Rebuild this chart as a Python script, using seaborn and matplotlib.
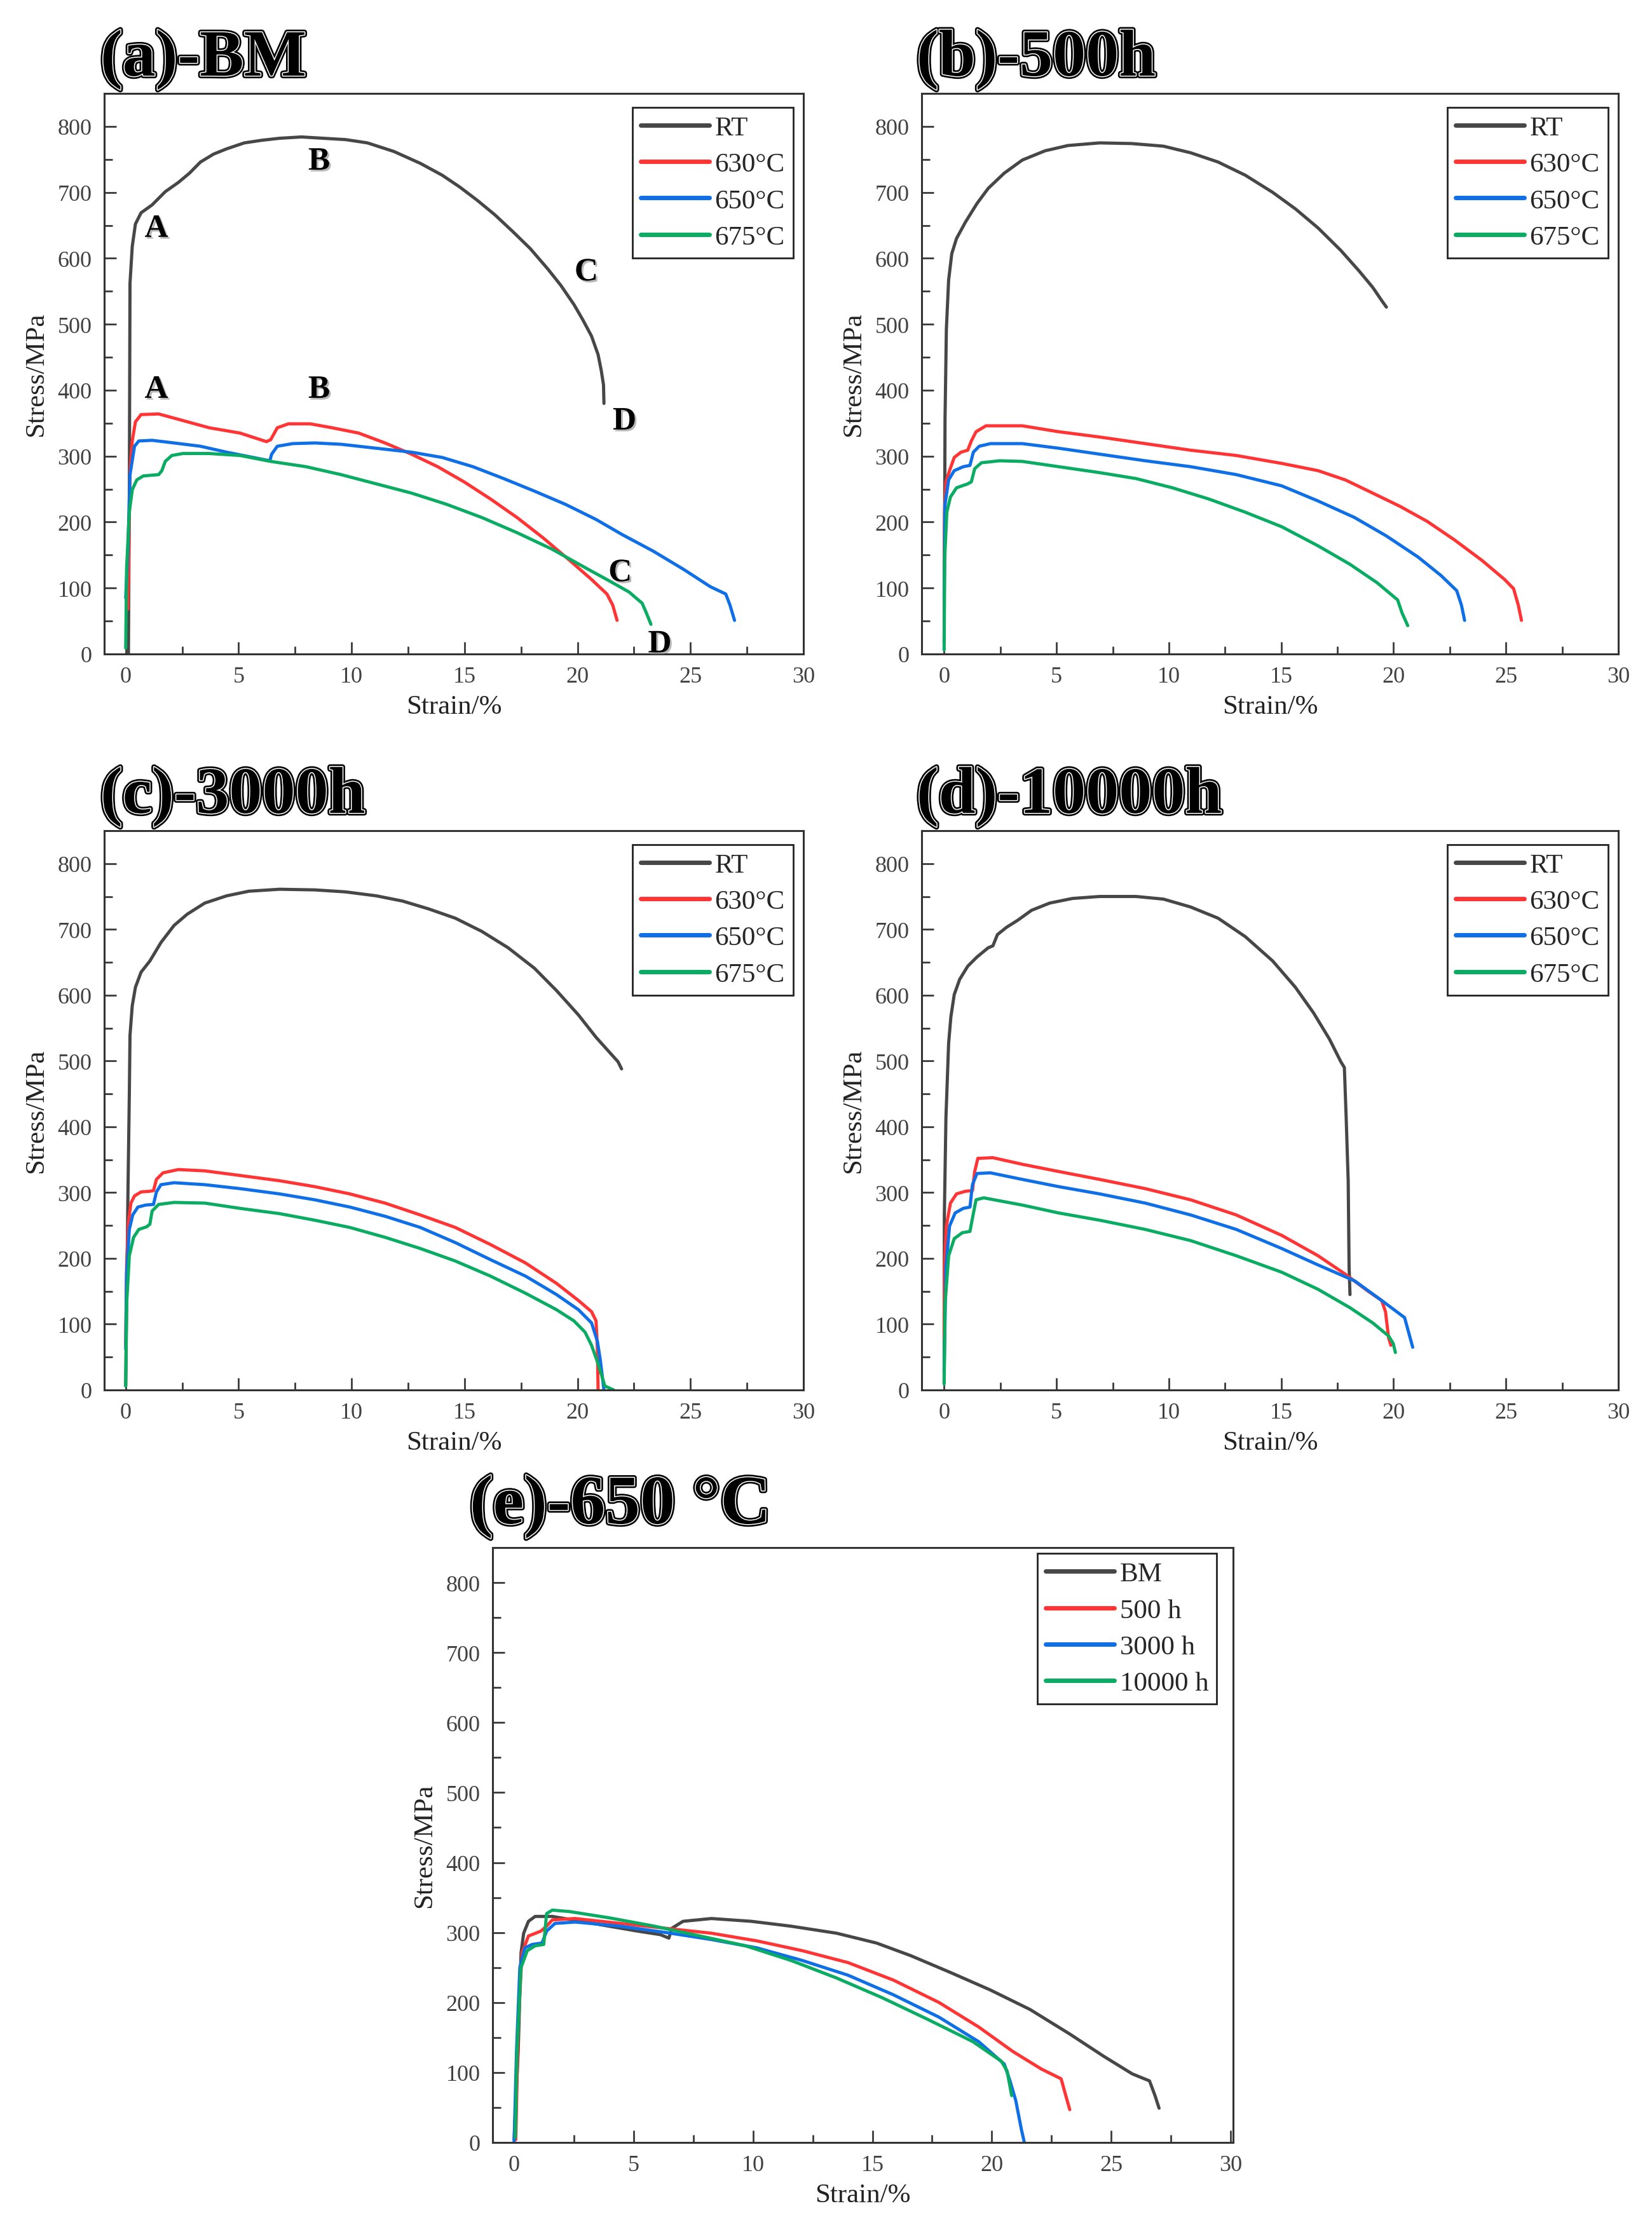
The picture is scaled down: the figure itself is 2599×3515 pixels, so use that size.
import numpy as np
import pandas as pd
import matplotlib
matplotlib.use("Agg")
import matplotlib.pyplot as plt
import matplotlib.patheffects as pe
from matplotlib.ticker import MultipleLocator
import seaborn as sns

# ---- data (strain %, stress MPa) ----
# (a) BM
a_rt_x = [0.12, 0.16, 0.19, 0.29, 0.43, 0.68, 1.17, 1.75, 2.33, 2.82, 3.31, 3.89, 4.47, 5.25, 6.03, 6.81, 7.78, 8.75,
          9.73, 10.70, 11.87, 13.04, 14.01, 14.79, 15.56, 16.34, 17.12, 17.90, 18.68, 19.26, 19.84, 20.23, 20.62,
          20.91, 21.05, 21.15, 21.17]
a_rt_y = [0, 244, 562, 618, 652, 669, 681, 701, 715, 729, 746, 758, 766, 775, 779, 782, 784, 782, 780, 775, 762, 744,
          726, 708, 688, 666, 641, 615, 584, 559, 530, 507, 482, 454, 430, 408, 380]
a_630_x = [0.10, 0.19, 0.29, 0.43, 0.68, 1.46, 2.53, 3.70, 5.06, 6.23, 6.42, 6.71, 7.20, 8.17, 9.14, 10.31, 11.48,
           12.65, 13.81, 14.98, 16.15, 17.32, 18.48, 19.65, 20.62, 21.30, 21.56, 21.75]
a_630_y = [68, 278, 323, 352, 363, 364, 354, 343, 335, 322, 325, 343, 349, 349, 343, 335, 320, 303, 284, 261, 235, 207,
           176, 142, 113, 91, 74, 51]
a_650_x = [0.0, 0.1, 0.19, 0.39, 0.58, 1.17, 2.14, 3.31, 4.47, 5.64, 6.38, 6.46, 6.71, 7.39, 8.37, 9.53, 11.09, 12.65,
           14.01, 15.37, 16.73, 18.09, 19.46, 20.82, 21.98, 23.35, 24.71, 25.88, 26.56, 26.75, 26.95]
a_650_y = [85, 159, 272, 315, 323, 324, 320, 315, 306, 298, 293, 303, 315, 319, 320, 318, 312, 306, 298, 284, 266, 247,
           227, 204, 181, 156, 128, 102, 91, 74, 51]
a_675_x = [0.0, 0.04, 0.16, 0.29, 0.49, 0.78, 1.46, 1.60, 1.75, 2.04, 2.53, 3.70, 5.06, 6.42, 7.98, 9.53, 11.09, 12.65,
           14.20, 15.76, 17.32, 18.87, 20.23, 21.40, 22.28, 22.86, 23.05, 23.25]
a_675_y = [9, 130, 215, 249, 264, 270, 272, 278, 292, 301, 304, 304, 301, 292, 284, 272, 258, 244, 227, 207, 184, 159,
           133, 111, 94, 77, 62, 45]

# (b) 500h
b_rt_x = [0.0, 0.04, 0.1, 0.2, 0.34, 0.55, 0.95, 1.46, 1.96, 2.67, 3.48, 4.49, 5.51, 6.92, 8.34, 9.76, 10.97, 12.19,
          13.40, 14.62, 15.63, 16.64, 17.65, 18.46, 19.07, 19.47, 19.68]
b_rt_y = [17, 357, 493, 567, 607, 630, 655, 683, 706, 729, 749, 763, 771, 775, 774, 770, 760, 746, 726, 700, 675, 646,
          612, 581, 556, 536, 526]
b_630_x = [0.0, 0.02, 0.08, 0.24, 0.45, 0.75, 1.05, 1.21, 1.42, 1.86, 3.48, 5.10, 6.92, 8.95, 10.97, 13.00, 15.02,
           16.64, 17.85, 19.07, 20.28, 21.50, 22.71, 23.93, 24.94, 25.34, 25.55, 25.69]
b_630_y = [102, 215, 261, 278, 298, 306, 309, 323, 337, 346, 346, 337, 329, 319, 309, 301, 289, 278, 264, 244, 224,
           201, 173, 142, 113, 99, 74, 51]
b_650_x = [0.0, 0.04, 0.2, 0.45, 0.85, 1.15, 1.30, 1.56, 2.06, 3.48, 5.10, 6.92, 8.95, 10.97, 13.00, 15.02, 16.64,
           18.26, 19.68, 21.09, 22.11, 22.81, 23.02, 23.16]
b_650_y = [85, 227, 264, 278, 284, 286, 306, 315, 319, 319, 312, 303, 293, 284, 272, 255, 232, 207, 179, 147, 119, 96,
           74, 51]
b_675_x = [0.0, 0.02, 0.12, 0.28, 0.55, 1.05, 1.21, 1.36, 1.66, 2.47, 3.48, 5.10, 6.92, 8.54, 10.16, 11.78, 13.40,
           15.02, 16.64, 18.06, 19.27, 20.18, 20.38, 20.63]
b_675_y = [6, 142, 215, 238, 252, 258, 261, 281, 290, 293, 292, 284, 275, 266, 252, 235, 215, 193, 164, 136, 108, 82,
           62, 43]

# (c) 3000h
c_rt_x = [0.0, 0.04, 0.1, 0.16, 0.19, 0.29, 0.43, 0.68, 1.07, 1.56, 2.14, 2.72, 3.50, 4.47, 5.45, 6.81, 8.37, 9.73,
          11.09, 12.26, 13.42, 14.59, 15.76, 16.93, 18.09, 19.07, 20.04, 20.82, 21.50, 21.79, 21.95]
c_rt_y = [6, 130, 301, 448, 539, 584, 612, 635, 652, 680, 706, 723, 740, 751, 758, 761, 760, 757, 751, 743, 731, 717,
          697, 672, 641, 607, 570, 536, 510, 499, 488]
c_630_x = [0.0, 0.04, 0.12, 0.23, 0.39, 0.68, 1.07, 1.23, 1.36, 1.65, 2.33, 3.50, 5.06, 6.81, 8.37, 9.92, 11.48, 13.04,
           14.59, 16.15, 17.70, 19.07, 20.04, 20.62, 20.82, 20.88, 20.91]
c_630_y = [68, 187, 255, 284, 295, 301, 302, 303, 320, 330, 335, 333, 326, 318, 309, 298, 284, 266, 247, 221, 193, 162,
           136, 119, 105, 62, 0]
c_650_x = [0.0, 0.04, 0.16, 0.31, 0.54, 0.88, 1.23, 1.36, 1.56, 2.14, 3.50, 5.06, 6.81, 8.37, 9.92, 11.48, 13.04, 14.59,
           16.15, 17.70, 19.07, 20.04, 20.62, 20.88, 21.01, 21.17]
c_650_y = [62, 176, 244, 266, 278, 281, 282, 301, 312, 315, 312, 306, 298, 289, 278, 264, 247, 224, 198, 173, 145, 122,
           102, 74, 45, 0]
c_675_x = [0.0, 0.04, 0.16, 0.35, 0.58, 0.93, 1.07, 1.17, 1.46, 2.14, 3.50, 5.06, 6.81, 8.37, 9.92, 11.48, 13.04, 14.59,
           16.15, 17.70, 19.07, 19.84, 20.33, 20.62, 20.91, 21.21, 21.6]
c_675_y = [6, 130, 204, 232, 244, 248, 252, 272, 282, 285, 284, 276, 268, 258, 247, 232, 215, 196, 173, 147, 122, 105,
           88, 68, 40, 6, 0]

# (d) 10000h
d_rt_x = [0.0, 0.01, 0.08, 0.2, 0.3, 0.45, 0.69, 1.05, 1.46, 1.96, 2.17, 2.37, 2.77, 3.28, 3.89, 4.70, 5.71, 6.92,
          8.54, 9.76, 10.97, 12.19, 13.40, 14.62, 15.63, 16.44, 17.15, 17.65, 17.81, 17.89, 17.98, 18.02, 18.06]
d_rt_y = [11, 266, 414, 527, 567, 601, 624, 644, 658, 672, 675, 692, 703, 714, 729, 740, 747, 750, 750, 746, 734, 717,
          689, 652, 612, 573, 533, 499, 490, 414, 318, 187, 145]
d_630_x = [0.0, 0.01, 0.1, 0.28, 0.55, 0.95, 1.26, 1.36, 1.50, 2.17, 3.48, 5.10, 6.92, 8.95, 10.97, 13.00, 15.02,
           16.64, 17.85, 18.87, 19.47, 19.64, 19.78, 19.88]
d_630_y = [79, 187, 249, 284, 298, 302, 303, 332, 352, 353, 343, 332, 320, 306, 289, 266, 235, 204, 176, 150, 136, 119,
           79, 68]
d_650_x = [0.0, 0.08, 0.24, 0.49, 0.85, 1.15, 1.26, 1.46, 2.06, 3.48, 5.10, 6.92, 8.95, 10.97, 13.00, 15.02, 16.64,
           18.26, 19.47, 20.49, 20.69, 20.85]
d_650_y = [28, 187, 249, 269, 276, 278, 312, 329, 330, 320, 309, 298, 284, 266, 244, 215, 190, 166, 136, 110, 85, 65]
d_675_x = [0.0, 0.04, 0.2, 0.45, 0.81, 1.15, 1.26, 1.42, 1.76, 3.48, 5.10, 6.92, 8.95, 10.97, 13.00, 15.02, 16.64,
           18.06, 19.07, 19.78, 19.98, 20.08]
d_675_y = [9, 130, 204, 230, 239, 241, 261, 289, 292, 281, 269, 258, 244, 227, 204, 179, 153, 125, 102, 82, 71, 57]

# (e) 650 °C
e_bm_x = [0.0, 0.17, 0.29, 0.40, 0.60, 0.88, 1.60, 2.79, 3.98, 5.17, 6.12, 6.48, 6.60, 7.07, 8.26, 9.93, 11.60, 13.50,
          15.17, 16.60, 18.26, 19.93, 21.60, 23.26, 24.69, 25.88, 26.60, 26.83, 27.00]
e_bm_y = [4, 130, 271, 299, 316, 323, 323, 316, 309, 302, 297, 292, 306, 316, 320, 316, 309, 299, 285, 267, 243, 218,
          190, 155, 123, 98, 88, 67, 49]
e_500_x = [0.07, 0.17, 0.33, 0.60, 1.12, 1.36, 1.60, 2.55, 4.45, 6.36, 8.26, 10.17, 12.07, 13.98, 15.88, 17.79, 19.45,
           20.88, 22.07, 22.90, 23.07, 23.26]
e_500_y = [4, 165, 271, 295, 302, 309, 318, 320, 313, 306, 299, 288, 274, 257, 232, 200, 165, 130, 105, 91, 70, 47]
e_3000_x = [0.0, 0.10, 0.24, 0.45, 0.76, 1.17, 1.36, 1.71, 2.55, 4.45, 6.36, 8.26, 10.17, 12.07, 13.98, 15.88, 17.79,
            19.45, 20.52, 20.76, 21.00, 21.24, 21.36]
e_3000_y = [0, 130, 250, 278, 283, 285, 302, 313, 315, 309, 300, 290, 278, 260, 239, 211, 179, 144, 112, 88, 60, 18, 0]
e_10000_x = [0.05, 0.12, 0.29, 0.55, 0.88, 1.24, 1.36, 1.60, 2.31, 3.98, 5.88, 7.79, 9.69, 11.60, 13.50, 15.40, 17.31,
             19.21, 20.40, 20.64, 20.83]
e_10000_y = [7, 130, 250, 274, 281, 283, 327, 332, 330, 321, 309, 295, 281, 260, 235, 207, 176, 144, 116, 102, 67]

temp_labels = ["RT", "630\u00b0C", "650\u00b0C", "675\u00b0C"]
time_labels = ["BM", "500 h", "3000 h", "10000 h"]
panel_titles = ["(a)-BM", "(b)-500h", "(c)-3000h", "(d)-10000h", "(e)-650 \u00b0C"]

# letters marking stages on panel (a)
mark_text = ["A", "B", "C", "D", "A", "B", "C", "D"]
mark_x = [1.36, 8.56, 20.39, 22.08, 1.36, 8.56, 21.89, 23.64]
mark_y = [644, 746, 578, 352, 400, 400, 122, 14]

colors = ["#474747", "#ff3535", "#0f6fe6", "#0aab62"]

# ---- style ----
sns.set_theme(style="ticks")
plt.rcParams["font.family"] = ["Liberation Serif", "DejaVu Serif"]

W, H = 2599, 3516
fig = plt.figure(figsize=(W / 100, H / 100), dpi=100)
fig.patch.set_facecolor("white")


def add_ax(left, top, right, bottom):
    return fig.add_axes([left / W, 1 - bottom / H, (right - left) / W, (bottom - top) / H])


def draw_panel(ax, xs, ys, labels, xlim, leg_anchor):
    for x, y, lab, c in zip(xs, ys, labels, colors):
        df = pd.DataFrame({"strain": x, "stress": y})
        sns.lineplot(data=df, x="strain", y="stress", sort=False, estimator=None,
                     color=c, lw=3.6, label=lab, ax=ax)
    ax.set_xlim(*xlim)
    ax.set_ylim(0, 850)
    ax.xaxis.set_major_locator(MultipleLocator(5))
    ax.xaxis.set_minor_locator(MultipleLocator(2.5))
    ax.yaxis.set_major_locator(MultipleLocator(100))
    ax.yaxis.set_minor_locator(MultipleLocator(50))
    ax.tick_params(which="major", direction="in", length=14, width=2, colors="#3a3a3a",
                   labelsize=26, pad=14, labelcolor="#404040")
    ax.tick_params(which="minor", direction="in", length=9, width=2, colors="#3a3a3a")
    for s in ax.spines.values():
        s.set_linewidth(2.2)
        s.set_color("#333333")
        s.set_visible(True)
    ax.set_xlabel("Strain/%", fontsize=31, color="#222222", labelpad=8)
    ax.set_ylabel("Stress/MPa", fontsize=31, color="#222222", labelpad=10)
    ax.set_facecolor("white")
    leg = ax.legend(loc="upper right", bbox_to_anchor=leg_anchor, borderaxespad=0,
                    fontsize=31, frameon=True, fancybox=False, edgecolor="#222222",
                    framealpha=1, handlelength=2.5, handletextpad=0.2, labelspacing=0.42,
                    borderpad=0.3)
    leg.get_frame().set_linewidth(2)
    for ln in leg.get_lines():
        ln.set_linewidth(5)
    return ax


def add_title(x, base, text, size):
    fig.text(x / W, 1 - base / H, text, fontsize=size, fontweight="bold", va="baseline", ha="left",
             color="black",
             path_effects=[pe.Stroke(linewidth=6, foreground="black"),
                           pe.Stroke(linewidth=2.2, foreground="white"),
                           pe.Normal()])


ax_a = add_ax(164, 148, 1264, 1030)
draw_panel(ax_a, [a_rt_x, a_630_x, a_650_x, a_675_x], [a_rt_y, a_630_y, a_650_y, a_675_y],
           temp_labels, (-0.95, 30), (0.985, 0.975))
for t, x, y in zip(mark_text, mark_x, mark_y):
    ax_a.text(x, y, t, fontsize=37, fontweight="bold", ha="center", va="center", color="black",
              path_effects=[pe.withSimplePatchShadow(offset=(2, -2), shadow_rgbFace="#888888", alpha=0.6)])

ax_b = add_ax(1450, 148, 2546, 1030)
draw_panel(ax_b, [b_rt_x, b_630_x, b_650_x, b_675_x], [b_rt_y, b_630_y, b_650_y, b_675_y],
           temp_labels, (-1.0, 30), (0.985, 0.975))

ax_c = add_ax(164, 1308, 1264, 2188)
draw_panel(ax_c, [c_rt_x, c_630_x, c_650_x, c_675_x], [c_rt_y, c_630_y, c_650_y, c_675_y],
           temp_labels, (-0.95, 30), (0.985, 0.975))

ax_d = add_ax(1450, 1308, 2546, 2188)
draw_panel(ax_d, [d_rt_x, d_630_x, d_650_x, d_675_x], [d_rt_y, d_630_y, d_650_y, d_675_y],
           temp_labels, (-1.0, 30), (0.985, 0.975))

ax_e = add_ax(775, 2436, 1940, 3372)
draw_panel(ax_e, [e_bm_x, e_500_x, e_3000_x, e_10000_x], [e_bm_y, e_500_y, e_3000_y, e_10000_y],
           time_labels, (-0.9, 30.1), (0.978, 0.99))

add_title(158, 120, panel_titles[0], 75)
add_title(1442, 120, panel_titles[1], 75)
add_title(158, 1280, panel_titles[2], 75)
add_title(1442, 1280, panel_titles[3], 75)
add_title(739, 2398, panel_titles[4], 79)

fig.savefig("out.png", dpi=100, facecolor="white")
